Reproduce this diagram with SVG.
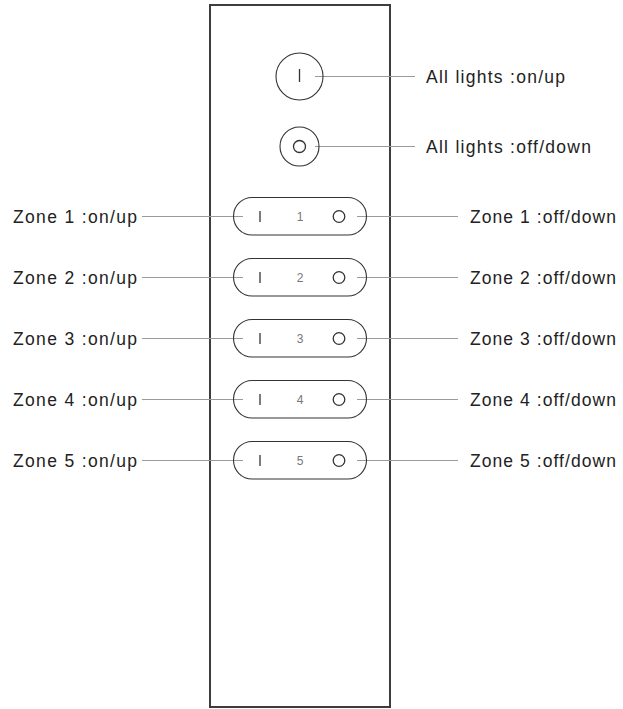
<svg xmlns="http://www.w3.org/2000/svg" width="623" height="709" viewBox="0 0 623 709">
<style>
.body{fill:#fff;stroke:#3d3d3d;stroke-width:2}
.btn{fill:none;stroke:#333;stroke-width:1.1}
.mark{fill:none;stroke:#333;stroke-width:1.3}
.conn line{stroke:#9a9a9a;stroke-width:1.2}
.lbl{font-family:"Liberation Sans",Arial,sans-serif;font-size:17.5px;fill:#222}
.num{font-family:"Liberation Sans Narrow","Liberation Sans",Arial,sans-serif;font-size:12px;fill:#777;text-anchor:middle}
</style>
<rect id="remote" class="body" x="210" y="5" width="180" height="702"/>
<g id="connectors" class="conn">
<line x1="315" y1="76.5" x2="415" y2="76.5"/>
<line x1="315" y1="146.5" x2="415" y2="146.5"/>
<line x1="142" y1="216.5" x2="243" y2="216.5"/>
<line x1="357" y1="216.5" x2="458" y2="216.5"/>
<line x1="142" y1="277.5" x2="243" y2="277.5"/>
<line x1="357" y1="277.5" x2="458" y2="277.5"/>
<line x1="142" y1="338.5" x2="243" y2="338.5"/>
<line x1="357" y1="338.5" x2="458" y2="338.5"/>
<line x1="142" y1="399.5" x2="243" y2="399.5"/>
<line x1="357" y1="399.5" x2="458" y2="399.5"/>
<line x1="142" y1="460.5" x2="243" y2="460.5"/>
<line x1="357" y1="460.5" x2="458" y2="460.5"/>
</g>
<g id="all-on">
<circle class="btn" cx="299.5" cy="76.5" r="23.5"/>
<line class="mark" x1="299.5" y1="69" x2="299.5" y2="82"/>
<text class="lbl" x="426" y="83" textLength="139" lengthAdjust="spacing">All lights :on/up</text>
</g>
<g id="all-off">
<circle class="btn" cx="299.5" cy="146.5" r="19.5"/>
<circle class="mark" cx="299.5" cy="146.5" r="6"/>
<text class="lbl" x="426" y="153" textLength="165" lengthAdjust="spacing">All lights :off/down</text>
</g>
<g id="zone1">
<rect class="btn" x="233.5" y="197.5" width="133" height="37.5" rx="18.7"/>
<line class="mark" x1="260" y1="211" x2="260" y2="222"/>
<text class="num" x="300" y="221">1</text>
<circle class="mark" cx="339" cy="216.5" r="5.8"/>
<text class="lbl" x="13" y="223" textLength="124" lengthAdjust="spacing">Zone 1 :on/up</text>
<text class="lbl" x="470" y="223" textLength="146" lengthAdjust="spacing">Zone 1 :off/down</text>
</g>
<g id="zone2">
<rect class="btn" x="233.5" y="258.5" width="133" height="37.5" rx="18.7"/>
<line class="mark" x1="260" y1="272" x2="260" y2="283"/>
<text class="num" x="300" y="282">2</text>
<circle class="mark" cx="339" cy="277.5" r="5.8"/>
<text class="lbl" x="13" y="284" textLength="124" lengthAdjust="spacing">Zone 2 :on/up</text>
<text class="lbl" x="470" y="284" textLength="146" lengthAdjust="spacing">Zone 2 :off/down</text>
</g>
<g id="zone3">
<rect class="btn" x="233.5" y="319.5" width="133" height="37.5" rx="18.7"/>
<line class="mark" x1="260" y1="333" x2="260" y2="344"/>
<text class="num" x="300" y="343">3</text>
<circle class="mark" cx="339" cy="338.5" r="5.8"/>
<text class="lbl" x="13" y="345" textLength="124" lengthAdjust="spacing">Zone 3 :on/up</text>
<text class="lbl" x="470" y="345" textLength="146" lengthAdjust="spacing">Zone 3 :off/down</text>
</g>
<g id="zone4">
<rect class="btn" x="233.5" y="380.5" width="133" height="37.5" rx="18.7"/>
<line class="mark" x1="260" y1="394" x2="260" y2="405"/>
<text class="num" x="300" y="404">4</text>
<circle class="mark" cx="339" cy="399.5" r="5.8"/>
<text class="lbl" x="13" y="406" textLength="124" lengthAdjust="spacing">Zone 4 :on/up</text>
<text class="lbl" x="470" y="406" textLength="146" lengthAdjust="spacing">Zone 4 :off/down</text>
</g>
<g id="zone5">
<rect class="btn" x="233.5" y="441.5" width="133" height="37.5" rx="18.7"/>
<line class="mark" x1="260" y1="455" x2="260" y2="466"/>
<text class="num" x="300" y="465">5</text>
<circle class="mark" cx="339" cy="460.5" r="5.8"/>
<text class="lbl" x="13" y="467" textLength="124" lengthAdjust="spacing">Zone 5 :on/up</text>
<text class="lbl" x="470" y="467" textLength="146" lengthAdjust="spacing">Zone 5 :off/down</text>
</g>
</svg>
